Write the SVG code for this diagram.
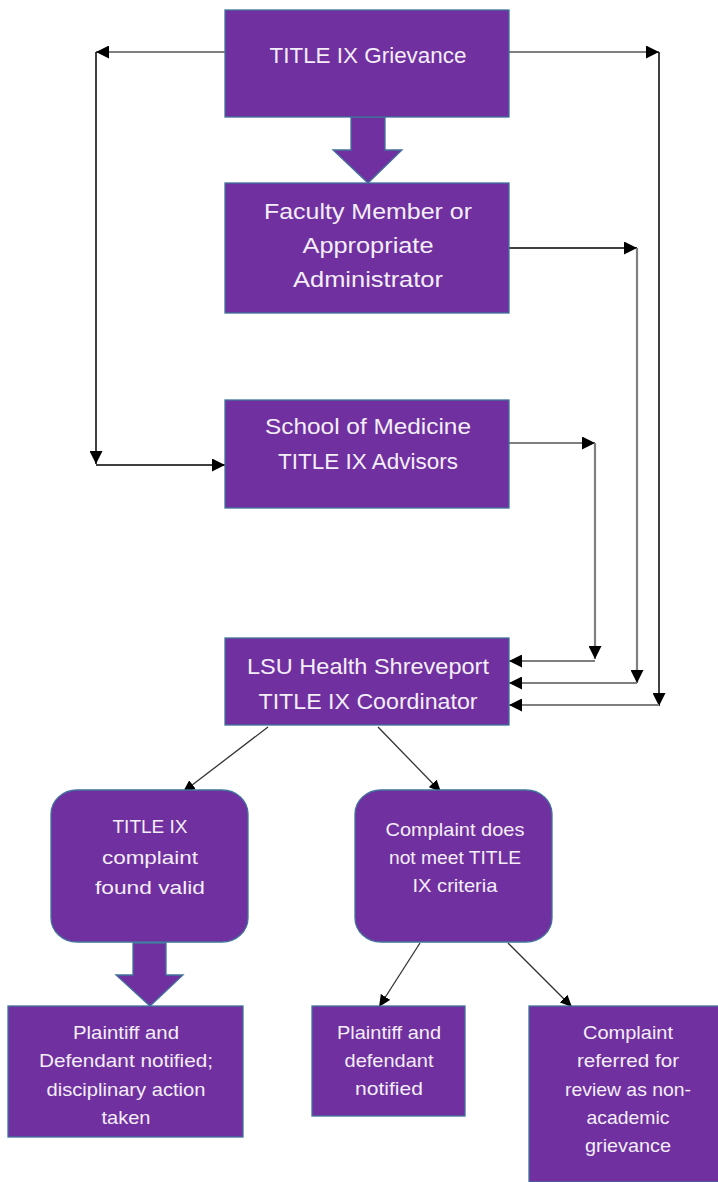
<svg xmlns="http://www.w3.org/2000/svg" width="718" height="1182" viewBox="0 0 718 1182">
<style>
.box{fill:#7030A0;stroke:#41719C;stroke-width:1.3}
.t{font-family:"Liberation Sans",Arial,sans-serif;fill:#F4EEF8;text-anchor:middle}
.big{font-size:22px}
.sm{font-size:19px}
.g{fill:none;stroke:#7F7F7F;stroke-width:2.2}
.k{fill:none;stroke:#000;stroke-width:1.5}
.d{fill:none;stroke:#333;stroke-width:1.3}
</style>
<defs>
<marker id="ah" markerUnits="userSpaceOnUse" markerWidth="14" markerHeight="13" refX="13" refY="6.5" orient="auto">
<path d="M0,0 L13,6.5 L0,13 Z" fill="#000"/>
</marker>
<marker id="ahs" markerUnits="userSpaceOnUse" markerWidth="13" markerHeight="11" refX="12" refY="5.5" orient="auto">
<path d="M0,0 L12,5.5 L0,11 Z" fill="#000"/>
</marker>
</defs>

<g id="connectors">
<path class="g" d="M225,52 H96" marker-end="url(#ah)"/>
<path class="k" d="M96,52 V464" marker-end="url(#ah)"/>
<path class="k" d="M96,465 H225" marker-end="url(#ah)"/>
<path class="g" d="M509,52 H659" marker-end="url(#ah)"/>
<path class="k" d="M659,52 V706" marker-end="url(#ah)"/>
<path class="g" d="M659,705 H509" marker-end="url(#ah)"/>
<path class="k" d="M509,248 H637" marker-end="url(#ah)"/>
<path class="g" d="M637,248 V683" marker-end="url(#ah)"/>
<path class="g" d="M637,683 H509" marker-end="url(#ah)"/>
<path class="g" d="M509,443 H595" marker-end="url(#ah)"/>
<path class="g" d="M595,443 V659" marker-end="url(#ah)"/>
<path class="g" d="M595,661 H509" marker-end="url(#ah)"/>
<path class="d" d="M268,727 L183,792" marker-end="url(#ahs)"/>
<path class="d" d="M378,727 L441,792" marker-end="url(#ahs)"/>
<path class="d" d="M420,943 L379,1007" marker-end="url(#ahs)"/>
<path class="d" d="M508,943 L572,1007" marker-end="url(#ahs)"/>
<polygon class="box" points="351,117 385,117 385,150 402,150 368,183 333,150 351,150"/>
<polygon class="box" points="133,943 166,943 166,975 183,975 150,1006 116,975 133,975"/>
</g>

<g id="grievance">
<rect class="box" x="225" y="10" width="284" height="107"/>
<text class="t big" x="368" y="63" textLength="197" lengthAdjust="spacingAndGlyphs">TITLE IX Grievance</text>
</g>

<g id="faculty">
<rect class="box" x="225" y="183" width="284" height="130"/>
<text class="t big" x="368" y="219" textLength="208" lengthAdjust="spacingAndGlyphs">Faculty Member or</text>
<text class="t big" x="368" y="253" textLength="131" lengthAdjust="spacingAndGlyphs">Appropriate</text>
<text class="t big" x="368" y="287" textLength="150" lengthAdjust="spacingAndGlyphs">Administrator</text>
</g>

<g id="advisors">
<rect class="box" x="225" y="400" width="284" height="108"/>
<text class="t big" x="368" y="434" textLength="206" lengthAdjust="spacingAndGlyphs">School of Medicine</text>
<text class="t big" x="368" y="469" textLength="180" lengthAdjust="spacingAndGlyphs">TITLE IX Advisors</text>
</g>

<g id="coordinator">
<rect class="box" x="225" y="638" width="284" height="87"/>
<text class="t big" x="368" y="674" textLength="242" lengthAdjust="spacingAndGlyphs">LSU Health Shreveport</text>
<text class="t big" x="368" y="709" textLength="219" lengthAdjust="spacingAndGlyphs">TITLE IX Coordinator</text>
</g>

<g id="valid">
<rect class="box" x="51" y="790" width="197" height="152" rx="26" ry="24"/>
<text class="t sm" x="150" y="833" textLength="75" lengthAdjust="spacingAndGlyphs">TITLE IX</text>
<text class="t sm" x="150" y="864" textLength="96" lengthAdjust="spacingAndGlyphs">complaint</text>
<text class="t sm" x="150" y="894" textLength="110" lengthAdjust="spacingAndGlyphs">found valid</text>
</g>

<g id="notmeet">
<rect class="box" x="355" y="790" width="197" height="152" rx="26" ry="24"/>
<text class="t sm" x="455" y="836" textLength="139" lengthAdjust="spacingAndGlyphs">Complaint does</text>
<text class="t sm" x="455" y="864" textLength="132" lengthAdjust="spacingAndGlyphs">not meet TITLE</text>
<text class="t sm" x="455" y="892" textLength="85" lengthAdjust="spacingAndGlyphs">IX criteria</text>
</g>

<g id="disciplinary">
<rect class="box" x="8" y="1006" width="235" height="131"/>
<text class="t sm" x="126" y="1039" textLength="106" lengthAdjust="spacingAndGlyphs">Plaintiff and</text>
<text class="t sm" x="126" y="1067" textLength="174" lengthAdjust="spacingAndGlyphs">Defendant notified;</text>
<text class="t sm" x="126" y="1096" textLength="159" lengthAdjust="spacingAndGlyphs">disciplinary action</text>
<text class="t sm" x="126" y="1124" textLength="49" lengthAdjust="spacingAndGlyphs">taken</text>
</g>

<g id="notified">
<rect class="box" x="312" y="1006" width="153" height="110"/>
<text class="t sm" x="389" y="1039" textLength="104" lengthAdjust="spacingAndGlyphs">Plaintiff and</text>
<text class="t sm" x="389" y="1067" textLength="89" lengthAdjust="spacingAndGlyphs">defendant</text>
<text class="t sm" x="389" y="1095" textLength="68" lengthAdjust="spacingAndGlyphs">notified</text>
</g>

<g id="referred">
<rect class="box" x="529" y="1006" width="200" height="176"/>
<text class="t sm" x="628" y="1039" textLength="90" lengthAdjust="spacingAndGlyphs">Complaint</text>
<text class="t sm" x="628" y="1067" textLength="102" lengthAdjust="spacingAndGlyphs">referred for</text>
<text class="t sm" x="628" y="1096" textLength="126" lengthAdjust="spacingAndGlyphs">review as non-</text>
<text class="t sm" x="628" y="1124" textLength="83" lengthAdjust="spacingAndGlyphs">academic</text>
<text class="t sm" x="628" y="1152" textLength="86" lengthAdjust="spacingAndGlyphs">grievance</text>
</g>
</svg>
